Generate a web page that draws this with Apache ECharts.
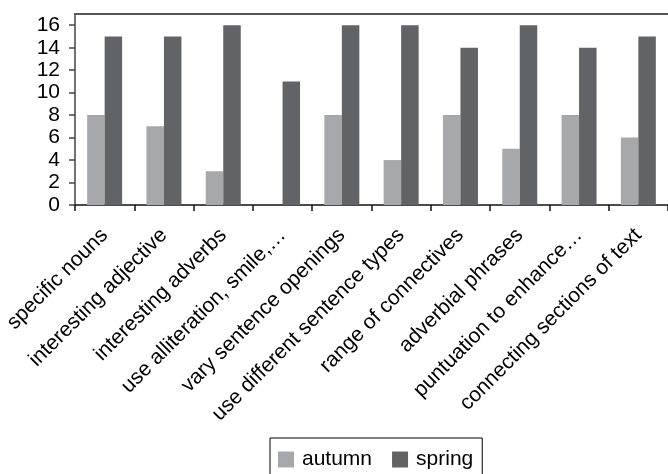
<!DOCTYPE html>
<html>
<head>
<meta charset="utf-8">
<script src="https://cdn.jsdelivr.net/npm/echarts@6/dist/echarts.min.js"></script>
<style>
  html, body { margin: 0; padding: 0; background: #fff; }
  #chart { width: 668px; height: 474px; }
</style>
</head>
<body>
<div id="chart"></div>
<script>
// Writing skills checklist: number of pupils per skill, autumn vs spring
const categories = [
  'specific nouns',
  'interesting adjective',
  'interesting adverbs',
  'use alliteration, smile,…',
  'vary sentence openings',
  'use different sentence types',
  'range of connectives',
  'adverbial phrases',
  'puntuation to enhance…',
  'connecting sections of text'
];
const autumn = [8, 7, 3, 0, 8, 4, 8, 5, 8, 6];
const spring = [15, 15, 16, 11, 16, 16, 14, 16, 14, 15];
const yTicks = [0, 2, 4, 6, 8, 10, 12, 14, 16];

const FONT = 'Liberation Sans, Arial, Helvetica, sans-serif';

const chart = echarts.init(document.getElementById('chart'), null, { renderer: 'canvas' });
chart.setOption({
  animation: false,
  backgroundColor: '#ffffff',
  grid: { left: 75, top: 14, width: 601, height: 191, containLabel: false },
  legend: {
    data: ['autumn', 'spring'],
    left: 270,
    top: 438,
    padding: [11, 9, 20, 8],
    itemGap: 20,
    itemWidth: 16,
    itemHeight: 16,
    borderColor: '#000',
    borderWidth: 1,
    borderRadius: 0,
    icon: 'rect',
    textStyle: { fontFamily: FONT, fontSize: 21, color: '#000', padding: [0, 0, 0, 3] }
  },
  xAxis: [
    {
      type: 'category',
      data: categories,
      position: 'bottom',
      axisLine: { lineStyle: { color: '#111', width: 1.5 } },
      axisTick: { show: true, length: 6, alignWithLabel: false, lineStyle: { color: '#111', width: 1.5 } },
      axisLabel: {
        interval: 0,
        rotate: 45,
        margin: 27,
        fontFamily: FONT,
        fontSize: 21,
        color: '#000'
      }
    },
    {
      type: 'category',
      data: categories,
      position: 'top',
      axisLine: { lineStyle: { color: '#555', width: 2 } },
      axisTick: { show: false },
      axisLabel: { show: false }
    }
  ],
  yAxis: {
    type: 'value',
    min: 0,
    max: 17,
    interval: 2,
    axisLine: { show: true, lineStyle: { color: '#444', width: 1.5 } },
    axisTick: { show: true, length: 6, customValues: yTicks, lineStyle: { color: '#444', width: 1.5 } },
    axisLabel: {
      customValues: yTicks,
      margin: 15,
      fontFamily: FONT,
      fontSize: 21,
      color: '#000'
    },
    splitLine: { show: false }
  },
  series: [
    {
      name: 'autumn',
      type: 'bar',
      xAxisIndex: 0,
      data: autumn,
      barGap: '0%',
      barCategoryGap: '41%',
      itemStyle: { color: '#a7a8ac' }
    },
    {
      name: 'spring',
      type: 'bar',
      xAxisIndex: 0,
      data: spring,
      barGap: '0%',
      barCategoryGap: '41%',
      itemStyle: { color: '#626367' }
    }
  ]
});
</script>
</body>
</html>
